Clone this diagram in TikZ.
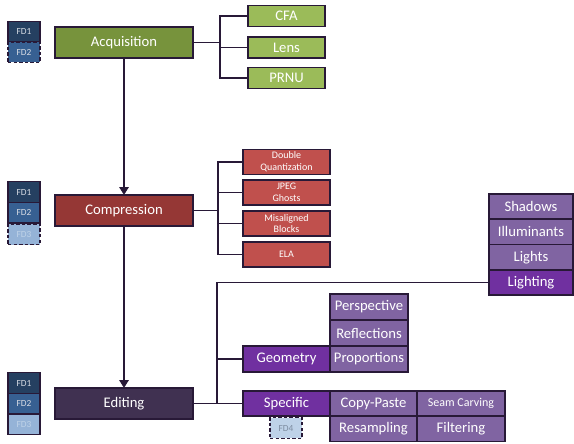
\documentclass[tikz,border=0pt]{standalone}
\usepackage{fontspec}
\setmainfont{Carlito}
\usetikzlibrary{positioning,arrows.meta}
\definecolor{fdDark}{RGB}{37,64,97}
\definecolor{fdMid}{RGB}{55,96,146}
\definecolor{fdPale}{RGB}{149,179,215}
\definecolor{fdFaint}{RGB}{190,210,232}
\definecolor{fdText}{RGB}{215,220,228}
\definecolor{fdGrey}{RGB}{125,140,160}
\definecolor{acqGreen}{RGB}{119,147,60}
\definecolor{subGreen}{RGB}{155,187,89}
\definecolor{compRed}{RGB}{149,55,53}
\definecolor{subRed}{RGB}{192,80,77}
\definecolor{editPurple}{RGB}{64,49,81}
\definecolor{deepViolet}{RGB}{112,48,160}
\definecolor{softViolet}{RGB}{128,100,162}
\definecolor{lineDark}{RGB}{40,25,55}

\begin{document}
\begin{tikzpicture}[
    x=0.75pt, y=-0.75pt,
    every node/.style={inner sep=0pt, outer sep=0pt, text=white},
    box/.style={rectangle, draw=lineDark, line width=1.1pt, align=center},
    main box/.style={box, minimum width=103.5pt, minimum height=23.25pt, font=\fontsize{11}{13}\selectfont},
    leaf green/.style={box, fill=subGreen, minimum width=57.75pt, minimum height=16pt, font=\fontsize{11}{13}\selectfont},
    leaf red/.style={box, fill=subRed, minimum width=65.25pt, minimum height=19pt, font=\fontsize{7.5}{8.8}\selectfont},
    leaf violet/.style={box, fill=softViolet, minimum height=19pt, font=\fontsize{11}{13}\selectfont},
    fd/.style={box, minimum width=24pt, minimum height=15.4pt, text=fdText, font=\fontsize{7}{8}\selectfont},
    fd open/.style={fd, dash pattern=on 2.6pt off 1.6pt},
    link/.style={draw=lineDark, line width=1.1pt},
    flow/.style={draw=lineDark, line width=2pt, -{Triangle[length=6pt, width=7pt]}}
]
  \useasboundingbox (0,0) rectangle (574,443);

  \node[main box, fill=acqGreen] (acq) at (124,42.5) {Acquisition};
  \node[main box, fill=compRed] (comp) at (124,210.5) {Compression};
  \node[main box, fill=editPurple] (edit) at (124,403.5) {Editing};

  \node[fd, fill=fdDark] (acqfd1) at (24,31.5) {FD1};
  \node[fd open, fill=fdMid, below=0pt of acqfd1] (acqfd2) {FD2};

  \node[fd, fill=fdDark] (compfd1) at (24,192) {FD1};
  \node[fd, fill=fdMid, below=0pt of compfd1] (compfd2) {FD2};
  \node[fd open, fill=fdPale, text=fdFaint, below=1pt of compfd2] (compfd3) {FD3};

  \node[fd, fill=fdDark] (editfd1) at (24,383) {FD1};
  \node[fd, fill=fdMid, below=0pt of editfd1] (editfd2) {FD2};
  \node[fd, fill=fdPale, text=fdFaint, below=0pt of editfd2] (editfd3) {FD3};

  \draw[flow] (acq) -- (comp);
  \draw[flow] (comp) -- (edit);

  % acquisition traces
  \node[leaf green] (cfa) at (286.5,16) {CFA};
  \node[leaf green] (lens) at (286.5,47.5) {Lens};
  \node[leaf green] (prnu) at (286.5,78) {PRNU};
  \draw[link] (acq.east) -- ++(27,0) coordinate (acqbus);
  \draw[link] (acqbus) |- (cfa);
  \draw[link] (acqbus) |- (lens);
  \draw[link] (acqbus) |- (prnu);

  % compression traces
  \node[leaf red] (dq) at (286.5,162) {Double\\Quantization};
  \node[leaf red] (ghost) at (286.5,192.5) {JPEG\\Ghosts};
  \node[leaf red] (blocks) at (286.5,223.5) {Misaligned\\Blocks};
  \node[leaf red] (ela) at (286.5,254.5) {ELA};
  \draw[link] (comp.east) -- ++(25,0) coordinate (compbus);
  \draw[link] (compbus) |- (dq);
  \draw[link] (compbus) |- (ghost);
  \draw[link] (compbus) |- (blocks);
  \draw[link] (compbus) |- (ela);

  % editing traces
  \node[leaf violet, fill=deepViolet, minimum width=63pt] (lighting) at (531,282.5) {Lighting};
  \node[leaf violet, minimum width=63pt, above=0pt of lighting] (lights) {Lights};
  \node[leaf violet, minimum width=63pt, above=0pt of lights] (illum) {Illuminants};
  \node[leaf violet, minimum width=63pt, above=0pt of illum] (shadows) {Shadows};

  \node[leaf violet, fill=deepViolet, minimum width=65.25pt, minimum height=19.5pt] (geom) at (286.5,359) {Geometry};
  \node[leaf violet, minimum width=58.5pt, minimum height=19.5pt, right=0pt of geom] (prop) {Proportions};
  \node[leaf violet, minimum width=58.5pt, minimum height=19.5pt, above=0pt of prop] (refl) {Reflections};
  \node[leaf violet, minimum width=58.5pt, minimum height=19.5pt, above=0pt of refl] (persp) {Perspective};

  \node[leaf violet, fill=deepViolet, minimum width=65.25pt] (spec) at (286.5,403.5) {Specific};
  \node[leaf violet, minimum width=65.25pt, right=0pt of spec] (copy) {Copy-Paste};
  \node[leaf violet, minimum width=66pt, right=0pt of copy, font=\fontsize{9}{11}\selectfont] (seam) {Seam Carving};
  \node[leaf violet, minimum width=65.25pt, below=0pt of copy] (resamp) {Resampling};
  \node[leaf violet, minimum width=66pt, below=0pt of seam] (filt) {Filtering};
  \node[fd open, fill=fdFaint, text=fdGrey] (fd4) at (286,428) {FD4};

  \draw[link] (edit.east) -- ++(24,0) coordinate (editbus);
  \draw[link] (editbus) |- (lighting);
  \draw[link] (editbus) |- (geom);
  \draw[link] (edit) -- (spec);
\end{tikzpicture}
\end{document}
